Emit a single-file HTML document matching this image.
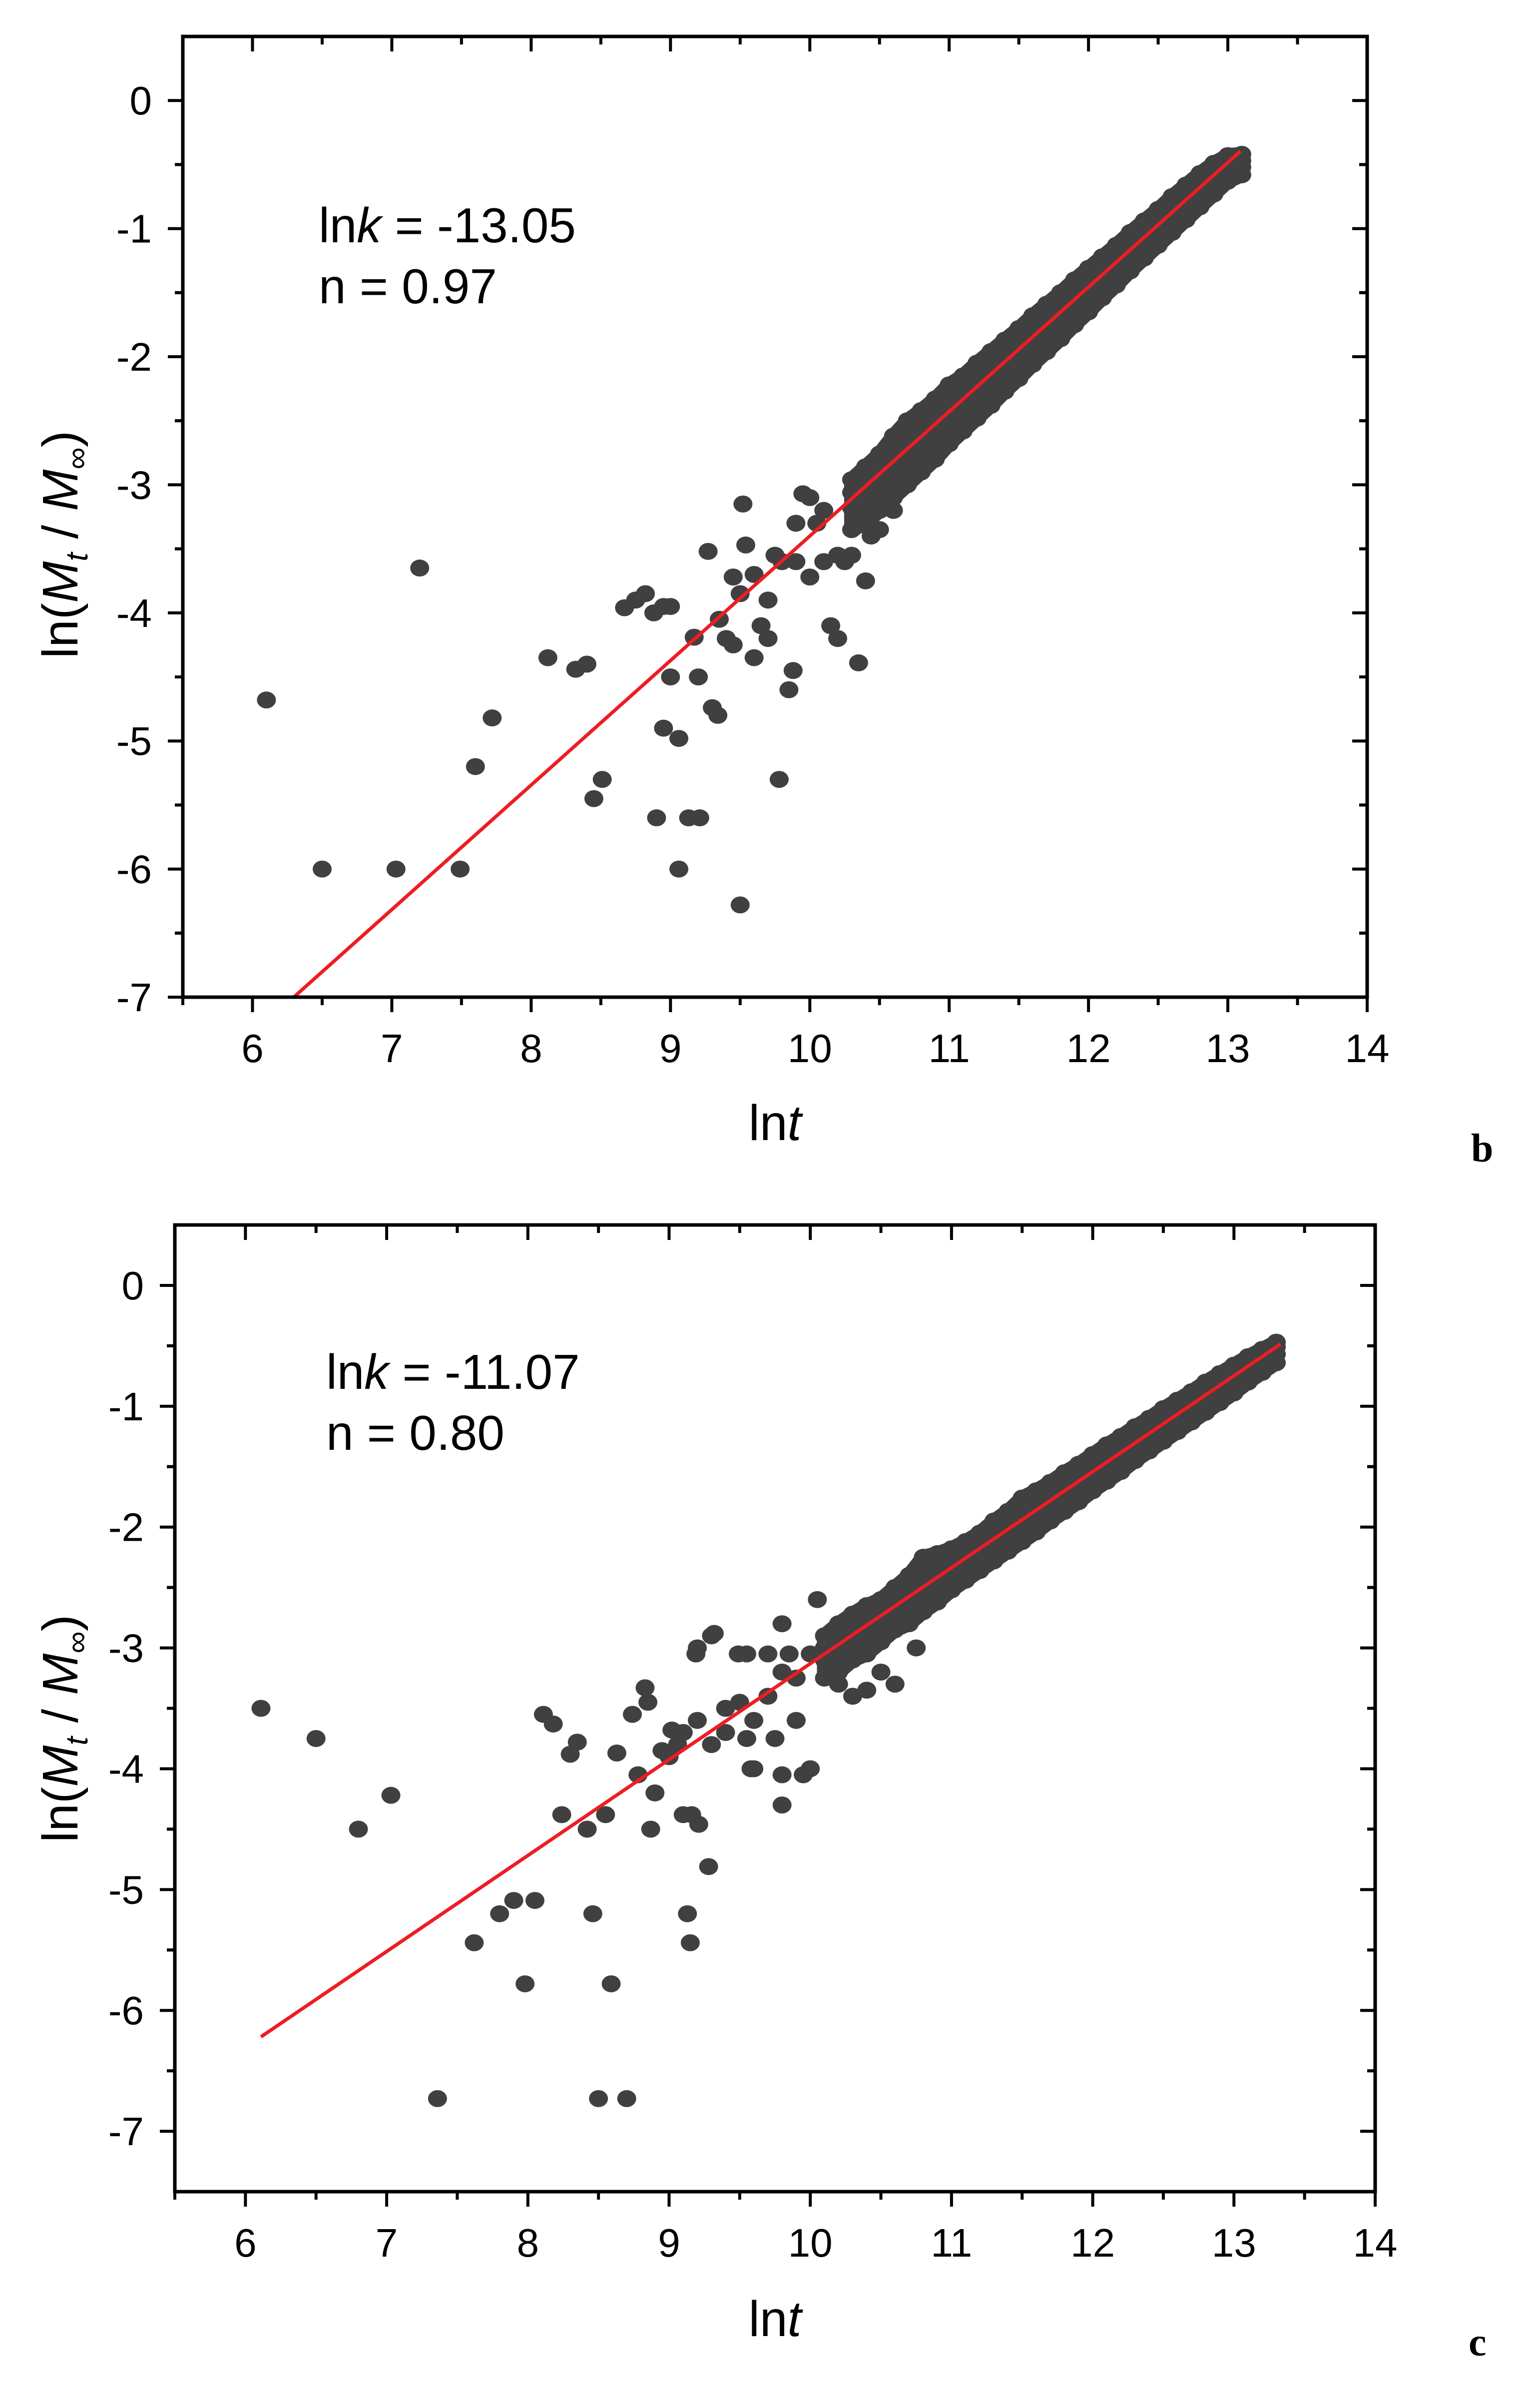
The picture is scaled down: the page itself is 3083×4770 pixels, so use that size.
<!DOCTYPE html>
<html><head><meta charset="utf-8"><style>
html,body{margin:0;padding:0;background:#fff;}
svg{display:block;}
text{fill:#000;}
</style></head><body>
<svg id="fig" xmlns="http://www.w3.org/2000/svg" width="3083" height="4770" viewBox="0 0 3083 4770" style="font-family:'Liberation Sans',sans-serif;">
<rect x="0" y="0" width="3083" height="4770" fill="#fff"/>
<text x="2945" y="2325" style="font-family:'Liberation Serif',serif;font-weight:bold;font-size:80px">b</text>
<text x="2940" y="4715" style="font-family:'Liberation Serif',serif;font-weight:bold;font-size:80px">c</text>
</svg>
<script>
// ---- Panel b data ----
const bOutX = [6.1,6.5,7.03,7.2,7.49,7.6,7.72,8.12,8.32,8.4,8.45,8.51,8.67,8.75,8.82,8.88,8.95,9.0,8.9,8.95,9.0,9.06,9.06,9.13,9.21,9.17,9.2,9.27,9.3,9.34,9.4,9.45,9.5,9.5,9.52,9.54,9.6,9.65,9.7,9.75,9.78,9.85,9.88,9.9,9.95,10.0,10.05,10.1,10.15,10.2,10.35,10.44,9.6,9.8,9.9,10.0,10.1,10.2,10.25,10.3,10.4,10.5,10.6,9.35,9.45,9.7];
const bOutY = [-4.68,-6.0,-6.0,-3.65,-6.0,-5.2,-4.82,-4.35,-4.44,-4.4,-5.45,-5.3,-3.96,-3.9,-3.85,-4.0,-3.95,-3.95,-5.6,-4.9,-4.5,-4.98,-6.0,-5.6,-5.6,-4.19,-4.5,-3.52,-4.74,-4.8,-4.2,-3.72,-3.85,-6.28,-3.15,-3.47,-4.35,-4.1,-3.9,-3.55,-5.3,-4.6,-4.45,-3.6,-3.07,-3.72,-3.3,-3.6,-4.1,-4.2,-4.39,-3.4,-3.7,-3.6,-3.3,-3.1,-3.2,-3.55,-3.6,-3.55,-3.75,-3.35,-3.2,-4.05,-4.25,-4.2];
const bBandX = [10.3,10.4,10.5,10.6,10.7,10.8,10.9,11.0,11.1,11.2,11.3,11.4,11.5,11.6,11.7,11.8,11.9,12.0,12.1,12.2,12.3,12.4,12.5,12.6,12.7,12.8,12.9,13.0,13.1];
const bBandHi = [-2.96,-2.86,-2.76,-2.62,-2.5,-2.42,-2.33,-2.22,-2.15,-2.05,-1.96,-1.87,-1.78,-1.68,-1.59,-1.5,-1.4,-1.31,-1.22,-1.13,-1.03,-0.94,-0.85,-0.75,-0.66,-0.57,-0.49,-0.43,-0.42];
const bBandMh = [-3.06,-2.96,-2.87,-2.77,-2.67,-2.57,-2.48,-2.38,-2.28,-2.19,-2.09,-1.99,-1.9,-1.8,-1.7,-1.61,-1.51,-1.41,-1.32,-1.22,-1.12,-1.03,-0.93,-0.84,-0.74,-0.65,-0.56,-0.48,-0.47];
const bBandMl = [-3.18,-3.08,-2.99,-2.89,-2.79,-2.7,-2.6,-2.5,-2.4,-2.31,-2.21,-2.11,-2.02,-1.92,-1.82,-1.72,-1.62,-1.53,-1.43,-1.33,-1.23,-1.14,-1.04,-0.94,-0.84,-0.74,-0.64,-0.55,-0.52];
const bBandLo = [-3.35,-3.3,-3.2,-3.1,-3.0,-2.9,-2.8,-2.68,-2.58,-2.48,-2.38,-2.27,-2.17,-2.06,-1.96,-1.86,-1.75,-1.65,-1.54,-1.44,-1.33,-1.23,-1.13,-1.03,-0.93,-0.83,-0.73,-0.63,-0.58];
const bFit = [-13.12, 0.972]; // intercept, slope
const bFitRange = [6.3, 13.09];
// ---- Panel c data ----
const cOutX = [6.11,6.5,6.8,7.03,7.36,7.62,7.8,7.9,7.98,8.05,8.11,8.18,8.3,8.35,8.24,8.42,8.46,8.5,8.55,8.59,8.63,8.7,8.74,8.78,8.83,8.85,8.87,8.9,8.95,9.02,9.06,9.1,9.16,9.13,9.15,9.21,9.28,9.19,9.32,9.4,9.5,9.6,9.7,9.8,9.9,10.0,9.75,9.85,9.9,10.2,10.3,10.4,10.5,10.6,10.75,9.55,9.4,9.3,9.1,9.2,9.0,9.2,9.3,9.55,9.7,9.6,9.8,9.8,10.05,9.8,9.95,10.0,9.49,9.58];
const cOutY = [-3.5,-3.75,-4.5,-4.22,-6.73,-5.44,-5.2,-5.09,-5.78,-5.09,-3.55,-3.63,-3.88,-3.78,-4.38,-4.5,-5.2,-6.73,-4.38,-5.78,-3.87,-6.73,-3.55,-4.05,-3.33,-3.45,-4.5,-4.2,-3.85,-3.68,-3.8,-4.38,-4.38,-5.2,-5.44,-4.46,-4.81,-3.05,-2.88,-3.5,-3.45,-3.6,-3.4,-3.2,-3.25,-3.05,-3.75,-3.05,-3.6,-3.3,-3.4,-3.35,-3.2,-3.3,-3.0,-3.75,-3.7,-3.8,-3.7,-3.6,-3.9,-3.0,-2.9,-3.05,-3.05,-4.0,-4.05,-2.8,-2.6,-4.3,-4.05,-4.0,-3.05,-4.0];
const cBandX = [10.1,10.2,10.3,10.4,10.5,10.6,10.7,10.8,10.9,11.0,11.1,11.2,11.3,11.4,11.5,11.6,11.7,11.8,11.9,12.0,12.1,12.2,12.3,12.4,12.5,12.6,12.7,12.8,12.9,13.0,13.1,13.2,13.3];
const cBandHi = [-2.9,-2.8,-2.72,-2.65,-2.6,-2.5,-2.4,-2.25,-2.22,-2.18,-2.12,-2.05,-1.95,-1.87,-1.76,-1.7,-1.63,-1.55,-1.48,-1.4,-1.32,-1.25,-1.17,-1.1,-1.02,-0.95,-0.88,-0.8,-0.73,-0.66,-0.59,-0.53,-0.47];
const cBandMh = [-3.0,-2.92,-2.85,-2.77,-2.69,-2.61,-2.53,-2.45,-2.38,-2.3,-2.22,-2.14,-2.06,-1.98,-1.9,-1.82,-1.74,-1.66,-1.58,-1.5,-1.42,-1.34,-1.26,-1.18,-1.1,-1.03,-0.95,-0.87,-0.79,-0.71,-0.64,-0.57,-0.51];
const cBandMl = [-3.1,-3.02,-2.95,-2.87,-2.79,-2.71,-2.63,-2.55,-2.48,-2.4,-2.32,-2.24,-2.16,-2.08,-2.0,-1.92,-1.84,-1.76,-1.68,-1.6,-1.52,-1.44,-1.36,-1.28,-1.2,-1.12,-1.04,-0.96,-0.88,-0.8,-0.72,-0.64,-0.57];
const cBandLo = [-3.25,-3.2,-3.1,-3.05,-2.95,-2.85,-2.8,-2.7,-2.62,-2.52,-2.44,-2.36,-2.28,-2.2,-2.12,-2.04,-1.95,-1.87,-1.79,-1.7,-1.62,-1.54,-1.45,-1.37,-1.29,-1.21,-1.13,-1.05,-0.97,-0.89,-0.8,-0.72,-0.64];
const cFit = [-11.07, 0.794];
const cFitRange = [6.11, 13.33];
// ---- shared ticks ----
const xTicks = [6,7,8,9,10,11,12,13,14];
const bYTicks = [0,-1,-2,-3,-4,-5,-6,-7];
const cYTicks = [0,-1,-2,-3,-4,-5,-6,-7];

const NS = "http://www.w3.org/2000/svg";
const svg = document.getElementById('fig');
function mk(tag, attrs, parent){
  const e = document.createElementNS(NS, tag);
  for (const k in attrs) e.setAttribute(k, attrs[k]);
  (parent||svg).appendChild(e);
  return e;
}
function panel(id, box, xr, yr, yTicks, outX, outY, bandX, bands, fit, fitR, ann, titleY, xTitleY){
  const g = mk('g', {});
  
  
  const sx = v => box.l + (v - xr[0]) / (xr[1] - xr[0]) * (box.r - box.l);
  const sy = v => box.b - (v - yr[0]) / (yr[1] - yr[0]) * (box.b - box.t);
  const pts = mk('g', {fill:'#404040'}, g);
  
  
  const lo = bands[0], hi = bands[bands.length-1];
  let d = '';
  bandX.forEach((x, i) => { d += (i ? 'L' : 'M') + sx(x) + ',' + sy(hi[i]); });
  for (let i = bandX.length - 1; i >= 0; i--) d += 'L' + sx(bandX[i]) + ',' + sy(lo[i]);
  const area = mk('path', {d: d + 'Z', fill:'#404040', stroke:'#404040', 'stroke-width':30, 'stroke-linejoin':'round'}, pts);
  
  
  const dot = (x, y) => {
    const c = mk('ellipse', {cx:sx(x), cy:sy(y), rx:19, ry:17}, pts);
    
    
  };
  bands.forEach(arr => arr.forEach((y, i) => dot(bandX[i], y)));
  outX.forEach((x, i) => dot(x, outY[i]));
  const ln = mk('line', {x1:sx(fitR[0]), y1:sy(fit[0]+fit[1]*fitR[0]), x2:sx(fitR[1]), y2:sy(fit[0]+fit[1]*fitR[1]), stroke:'#ee1c24', 'stroke-width':7}, g);
  
  
  const fr = mk('rect', {x:box.l, y:box.t, width:box.r-box.l, height:box.b-box.t, fill:'none', stroke:'#000', 'stroke-width':7}, g);
  
  
  const tk = mk('g', {stroke:'#000', 'stroke-width':6}, g);
  
  
  xTicks.forEach(v => {
    const x = sx(v);
    mk('line', {x1:x, y1:box.b, x2:x, y2:box.b+30}, tk);
    mk('line', {x1:x, y1:box.t, x2:x, y2:box.t+30}, tk);
    const xm = sx(v - 0.5);
    mk('line', {x1:xm, y1:box.b, x2:xm, y2:box.b+16}, tk);
    mk('line', {x1:xm, y1:box.t, x2:xm, y2:box.t+16}, tk);
    const t = mk('text', {x:x, y:box.b+130, 'font-size':80, 'text-anchor':'middle'}, g);
    t.textContent = v;
    
    
  });
  yTicks.forEach(v => {
    const y = sy(v);
    mk('line', {x1:box.l-30, y1:y, x2:box.l, y2:y}, tk);
    mk('line', {x1:box.r-30, y1:y, x2:box.r, y2:y}, tk);
    [v+0.5, v-0.5].forEach(m => {
      if (m > yr[0] && m < yr[1]) {
        const ym = sy(m);
        mk('line', {x1:box.l-16, y1:ym, x2:box.l, y2:ym}, tk);
        mk('line', {x1:box.r-16, y1:ym, x2:box.r, y2:ym}, tk);
      }
    });
    const t = mk('text', {x:box.l-62, y:y+28, 'font-size':80, 'text-anchor':'end'}, g);
    t.textContent = v;
    
    
  });
  const xt = mk('text', {x:(box.l+box.r)/2, y:xTitleY, 'font-size':100, 'text-anchor':'middle'}, g);
  xt.innerHTML = 'ln<tspan font-style="italic">t</tspan>';
  
  
  const yt = mk('text', {x:0, y:0, 'font-size':100, 'text-anchor':'middle', transform:'translate(155,'+titleY+') rotate(-90)'}, g);
  yt.innerHTML = 'ln(<tspan font-style="italic">M</tspan><tspan font-size="62" font-style="italic" dy="20">t</tspan><tspan dy="-20"> / </tspan><tspan font-style="italic">M</tspan><tspan font-size="62" dy="20">∞</tspan><tspan dy="-20">)</tspan>';
  
  
  const a1 = mk('text', {x:ann.x, y:ann.y, 'font-size':98}, g);
  a1.innerHTML = 'ln<tspan font-style="italic">k</tspan> = ' + ann.k;
  
  
  const a2 = mk('text', {x:ann.x, y:ann.y+122, 'font-size':98}, g);
  a2.textContent = 'n = ' + ann.n;
  
  
}
panel('b', {l:366, r:2737, t:73, b:1996}, [5.5,14], [-7,0.5], bYTicks, bOutX, bOutY, bBandX, [bBandLo,bBandMl,bBandMh,bBandHi], bFit, bFitRange, {x:638, y:485, k:'-13.05', n:'0.97'}, 1090, 2282);
panel('c', {l:350, r:2753, t:2452, b:4387}, [5.5,14], [-7.5,0.5], cYTicks, cOutX, cOutY, cBandX, [cBandLo,cBandMl,cBandMh,cBandHi], cFit, cFitRange, {x:653, y:2780, k:'-11.07', n:'0.80'}, 3460, 4676);
</script>
</body></html>
